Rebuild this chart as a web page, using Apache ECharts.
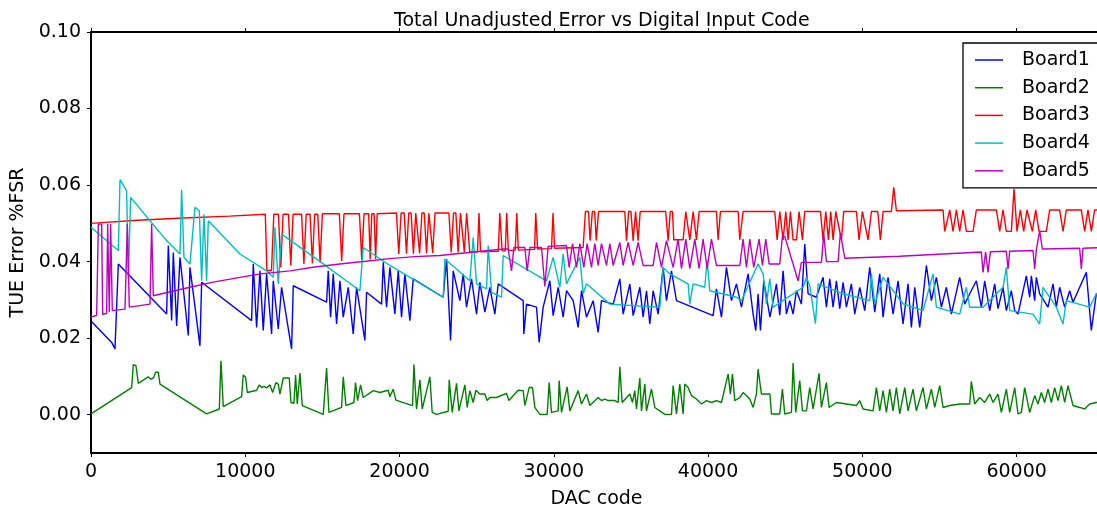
<!DOCTYPE html>
<html>
<head>
<meta charset="utf-8">
<script src="https://cdn.jsdelivr.net/npm/echarts@6/dist/echarts.min.js"></script>
<style>
html,body{margin:0;padding:0;background:#fff;}
#chart{width:1097px;height:506px;}
</style>
</head>
<body>
<div id="chart"></div>
<script>
const seriesNames = ['Board1','Board2','Board3','Board4','Board5'];
const xTicks = [0,10000,20000,30000,40000,50000,60000];
const yTicks = [0,0.02,0.04,0.06,0.08,0.10];

const b1x = [0,1339,1555,1771,4903,5011,5227,5335,5551,5767,6307,6415,7063,7171,10411,10519,10735,10951,11167,11383,11707,11815,12139,12355,13003,13111,15271,15379,15531,15703,15919,16135,16351,16675,16999,17215,17755,17863,18835,18943,19159,19375,19699,19915,20131,20347,20671,20887,22831,23047,23307,23479,23911,24127,24343,24667,24991,25207,25531,25855,26179,26395,28015,28058,28231,28879,29052,29311,29743,29959,30283,30607,30823,31255,31579,31795,32119,32551,32875,33091,33847,34279,34495,34927,35143,35575,35791,36007,36223,36439,36763,37087,37303,37627,37951,40327,40543,40867,41191,41515,41839,42163,42595,42919,43092,43243,43394,43610,44011,44431,44647,44863,45079,45295,45511,45727,46051,46267,46483,47023,47455,47671,47887,48103,48319,48535,48751,48967,49291,49507,49831,50155,50479,50803,51127,51343,51667,51991,52315,52639,52963,53179,53395,53719,54151,54475,54799,55123,55447,55771,56311,56635,56959,57391,57715,57931,58255,58579,58795,59119,59335,59659,59875,60091,60631,60847,60955,61171,61279,61495,62035,62359,62575,62791,63115,63439,63655,64087,64519,64843,65167,65535];
const b1y = [0.0245,0.0189,0.0172,0.0394,0.0263,0.0442,0.0246,0.0424,0.0232,0.0411,0.0207,0.0385,0.0180,0.0346,0.0246,0.0394,0.0228,0.0376,0.0220,0.0368,0.0211,0.0350,0.0224,0.0333,0.0172,0.0337,0.0294,0.0376,0.0255,0.0368,0.0237,0.0350,0.0255,0.0333,0.0211,0.0333,0.0194,0.0320,0.0289,0.0398,0.0281,0.0385,0.0263,0.0376,0.0255,0.0368,0.0246,0.0355,0.0307,0.0407,0.0194,0.0376,0.0298,0.0368,0.0281,0.0355,0.0263,0.0346,0.0268,0.0333,0.0263,0.0342,0.0298,0.0211,0.0289,0.0281,0.0189,0.0281,0.0350,0.0259,0.0333,0.0255,0.0324,0.0298,0.0228,0.0324,0.0255,0.0298,0.0215,0.0298,0.0289,0.0355,0.0263,0.0342,0.0259,0.0333,0.0255,0.0324,0.0237,0.0324,0.0263,0.0385,0.0298,0.0376,0.0298,0.0259,0.0329,0.0255,0.0385,0.0298,0.0342,0.0281,0.0368,0.0263,0.0220,0.0316,0.0220,0.0350,0.0255,0.0342,0.0260,0.0376,0.0263,0.0298,0.0263,0.0324,0.0289,0.0446,0.0316,0.0307,0.0359,0.0281,0.0355,0.0281,0.0350,0.0277,0.0346,0.0281,0.0342,0.0263,0.0333,0.0272,0.0385,0.0268,0.0368,0.0255,0.0359,0.0263,0.0350,0.0237,0.0342,0.0228,0.0333,0.0228,0.0390,0.0298,0.0359,0.0281,0.0333,0.0263,0.0359,0.0289,0.0316,0.0350,0.0281,0.0350,0.0272,0.0342,0.0277,0.0333,0.0272,0.0324,0.0272,0.0263,0.0363,0.0307,0.0363,0.0298,0.0359,0.0316,0.0281,0.0342,0.0281,0.0333,0.0281,0.0324,0.0294,0.0333,0.0372,0.0220,0.0316,0.0325];

const b2x = [0,2635,2743,2916,3067,3715,3866,4039,4190,4363,4471,7495,8316,8424,8575,9763,9871,10022,10130,10735,10908,11059,11210,11383,11599,11772,11988,12139,12247,12463,12852,12960,13155,13262,13370,13543,13694,15055,15271,15422,16243,16351,16524,17042,17150,17280,17474,17647,18295,18727,19267,19375,19591,19764,20843,20930,21103,21319,21470,21967,22118,22399,23155,23220,23414,23695,23846,24235,24386,24559,24775,24948,25207,25531,25682,25855,26287,26935,27086,27691,28015,28123,28404,28620,28771,29095,29570,29700,29851,30283,30348,30499,30866,31039,31579,31795,32119,32335,32875,33091,33307,33523,33955,34171,34279,34430,34927,35100,35251,35359,35575,35683,35899,36007,36331,36547,37195,37627,37735,37951,38167,38383,38491,38707,38923,39247,39571,39895,40219,40543,40867,41299,41450,41580,41731,42055,42271,42487,42703,42919,43135,43243,43459,44011,44107,44647,44820,44971,45403,45511,45684,45943,46116,46375,46591,46807,47196,47347,47671,47844,48319,48967,49615,49831,50047,50695,50911,51127,51343,51559,51775,51991,52207,52423,52747,52963,53287,53503,53935,54151,54475,54691,55015,55231,55663,56311,56959,57067,57283,57607,57931,58255,58471,58795,59011,59335,59551,59875,60091,60307,60523,60847,61171,61387,61603,61819,62035,62251,62467,62683,62899,63115,63331,63655,64087,64411,64735,65167,65535];
const b2y = [0.0002,0.0071,0.0131,0.0128,0.0082,0.0099,0.0093,0.0096,0.0111,0.0111,0.0080,0.0002,0.0015,0.0141,0.0021,0.0047,0.0104,0.0098,0.0058,0.0064,0.0078,0.0071,0.0074,0.0070,0.0078,0.0058,0.0084,0.0080,0.0054,0.0096,0.0096,0.0032,0.0030,0.0104,0.0028,0.0109,0.0024,0.0001,0.0122,0.0006,0.0019,0.0099,0.0024,0.0032,0.0084,0.0037,0.0078,0.0045,0.0063,0.0058,0.0064,0.0047,0.0067,0.0038,0.0024,0.0131,0.0015,0.0091,0.0015,0.0099,0.0006,0.0001,0.0009,0.0091,0.0006,0.0082,0.0010,0.0078,0.0019,0.0063,0.0032,0.0064,0.0054,0.0054,0.0037,0.0045,0.0045,0.0056,0.0037,0.0064,0.0063,0.0024,0.0071,0.0071,0.0019,0.0001,0.0001,0.0084,0.0006,0.0010,0.0089,0.0006,0.0073,0.0010,0.0063,0.0028,0.0054,0.0024,0.0045,0.0037,0.0041,0.0037,0.0037,0.0032,0.0125,0.0032,0.0054,0.0032,0.0063,0.0015,0.0096,0.0010,0.0080,0.0010,0.0067,0.0019,0.0001,0.0001,0.0076,0.0002,0.0080,0.0002,0.0080,0.0071,0.0050,0.0041,0.0028,0.0037,0.0032,0.0037,0.0032,0.0106,0.0054,0.0106,0.0037,0.0045,0.0058,0.0050,0.0041,0.0019,0.0054,0.0119,0.0054,0.0054,0.0002,0.0002,0.0067,0.0002,0.0006,0.0135,0.0006,0.0089,0.0010,0.0010,0.0071,0.0015,0.0108,0.0019,0.0084,0.0019,0.0032,0.0028,0.0024,0.0037,0.0015,0.0010,0.0071,0.0010,0.0063,0.0006,0.0067,0.0010,0.0071,0.0002,0.0071,0.0010,0.0067,0.0010,0.0071,0.0015,0.0067,0.0019,0.0076,0.0019,0.0024,0.0028,0.0028,0.0087,0.0028,0.0045,0.0032,0.0054,0.0032,0.0054,0.0006,0.0067,0.0006,0.0071,0.0002,0.0006,0.0071,0.0006,0.0050,0.0028,0.0058,0.0032,0.0067,0.0032,0.0071,0.0037,0.0076,0.0032,0.0076,0.0024,0.0019,0.0015,0.0028,0.0032,0.0032];

const b3x = [0,3000,6000,9000,11300,11400,11700,11850,12150,12300,12450,12800,12950,13100,13650,13800,13950,14200,14350,14500,14700,14850,15000,16100,16250,16400,17400,17550,17700,18000,18100,18200,18350,18450,18550,19800,19950,20100,20300,20450,20600,20750,20900,21050,21150,21300,21450,21600,21750,21900,22000,22150,22300,23200,23350,23500,23650,23800,23950,24050,24200,24350,24450,24550,25050,25150,25250,26400,26500,26650,26850,26950,27050,27500,27600,27700,28750,28830,28950,29850,29950,30050,31900,32050,32250,32350,32500,32650,32750,32900,34600,34711,34850,35000,35143,35300,35400,35467,35600,37250,37411,37550,37692,37778,38383,38556,38815,39031,39247,39420,40543,40651,40802,41947,42055,42163,42271,44323,44474,44647,44863,45036,45187,45338,45511,45727,45900,46116,46267,47282,47455,47628,47801,47952,48103,48276,48643,48794,49615,49788,50004,50371,50587,51000,51170,51343,51883,52034,52207,55231,55339,55663,55879,56095,56311,56527,56743,57175,57391,58687,58903,59119,59335,59659,59832,60026,60242,60458,60674,61020,61236,61452,61927,62143,62791,63007,63223,64195,64411,64627,64843,65059,65535];
const b3y = [0.0500,0.0508,0.0514,0.0519,0.0524,0.0377,0.0377,0.0524,0.0524,0.0385,0.0524,0.0524,0.0390,0.0524,0.0524,0.0394,0.0524,0.0524,0.0396,0.0524,0.0524,0.0398,0.0525,0.0525,0.0402,0.0525,0.0525,0.0405,0.0525,0.0525,0.0406,0.0525,0.0525,0.0407,0.0525,0.0527,0.0420,0.0527,0.0527,0.0421,0.0527,0.0527,0.0421,0.0527,0.0527,0.0422,0.0527,0.0527,0.0422,0.0527,0.0527,0.0423,0.0527,0.0527,0.0424,0.0527,0.0527,0.0424,0.0527,0.0527,0.0425,0.0527,0.0527,0.0425,0.0425,0.0527,0.0426,0.0427,0.0527,0.0428,0.0428,0.0527,0.0429,0.0430,0.0527,0.0430,0.0432,0.0527,0.0433,0.0434,0.0527,0.0435,0.0437,0.0531,0.0531,0.0455,0.0531,0.0531,0.0455,0.0531,0.0531,0.0455,0.0531,0.0531,0.0455,0.0531,0.0531,0.0455,0.0531,0.0531,0.0455,0.0531,0.0531,0.0457,0.0457,0.0531,0.0457,0.0531,0.0457,0.0531,0.0531,0.0457,0.0531,0.0531,0.0457,0.0457,0.0531,0.0531,0.0457,0.0531,0.0457,0.0531,0.0457,0.0531,0.0457,0.0457,0.0531,0.0457,0.0531,0.0531,0.0457,0.0531,0.0457,0.0531,0.0457,0.0531,0.0457,0.0531,0.0531,0.0457,0.0531,0.0457,0.0531,0.0531,0.0457,0.0531,0.0531,0.0594,0.0533,0.0535,0.0479,0.0535,0.0479,0.0535,0.0479,0.0535,0.0479,0.0479,0.0535,0.0535,0.0479,0.0535,0.0479,0.0479,0.0590,0.0479,0.0535,0.0479,0.0535,0.0479,0.0535,0.0479,0.0479,0.0535,0.0535,0.0479,0.0535,0.0535,0.0479,0.0535,0.0479,0.0535,0.0535];

const b4x = [0,1771,1879,2311,2419,2570,3823,4903,5767,5875,6026,6415,6739,7020,7171,7322,7495,7603,9655,11383,11815,11923,12139,12355,15055,17431,17647,19375,22831,22939,24559,24775,24991,25639,25747,25963,26611,26719,29527,29959,30391,30607,30823,31687,31903,32119,33631,36871,37087,37519,38707,38815,39031,39787,39938,40111,41839,42163,43243,43567,43783,43999,44215,46159,46375,46591,46959,47131,48751,50479,50587,50803,51343,52639,53935,54583,54799,56311,56743,56959,57823,59119,59335,59551,61063,61495,61711,62575,63007,63223,64735,65167,65535];
const b4y = [0.0490,0.0429,0.0614,0.0585,0.0355,0.0568,0.0507,0.0455,0.0420,0.0588,0.0411,0.0394,0.0542,0.0533,0.0350,0.0524,0.0350,0.0507,0.0420,0.0376,0.0359,0.0490,0.0342,0.0472,0.0394,0.0324,0.0437,0.0390,0.0307,0.0407,0.0350,0.0463,0.0342,0.0329,0.0442,0.0320,0.0307,0.0416,0.0350,0.0411,0.0333,0.0420,0.0342,0.0411,0.0316,0.0342,0.0289,0.0281,0.0385,0.0368,0.0342,0.0289,0.0342,0.0333,0.0403,0.0324,0.0307,0.0298,0.0394,0.0368,0.0289,0.0355,0.0281,0.0333,0.0359,0.0337,0.0238,0.0342,0.0316,0.0298,0.0368,0.0289,0.0359,0.0290,0.0272,0.0368,0.0281,0.0263,0.0333,0.0281,0.0281,0.0333,0.0385,0.0272,0.0263,0.0237,0.0333,0.0281,0.0237,0.0298,0.0281,0.0316,0.0320];

const b5x = [0,367,475,691,756,1015,1080,1188,1274,1382,2203,2354,2484,3823,3931,4039,5000,6415,8000,9655,11000,12895,14500,16135,17800,19375,21000,22615,24500,26719,27043,27259,27410,28123,28274,28447,29203,29419,29635,30823,30996,31212,31471,31687,31946,32162,32443,32659,32875,33091,33415,33631,33847,34279,34495,34819,35143,35467,35791,36439,36655,36979,37303,37735,38059,38275,38556,38815,39139,39420,39679,39938,40219,40543,42055,42271,42487,42703,42961,43308,43524,43740,43956,44647,44820,44971,45835,46051,47347,47498,47671,48427,48578,48859,52423,57715,57823,57990,58147,58300,59335,59443,59551,61063,61171,61279,61495,61667,64087,64195,64303,65535];
const b5y = [0.0255,0.0260,0.0498,0.0498,0.0262,0.0265,0.0498,0.0268,0.0498,0.0272,0.0276,0.0498,0.0281,0.0289,0.0498,0.0311,0.0320,0.0333,0.0347,0.0359,0.0368,0.0376,0.0386,0.0394,0.0401,0.0408,0.0413,0.0416,0.0424,0.0433,0.0433,0.0376,0.0437,0.0437,0.0376,0.0437,0.0437,0.0335,0.0440,0.0442,0.0385,0.0447,0.0385,0.0447,0.0385,0.0447,0.0385,0.0447,0.0390,0.0447,0.0390,0.0447,0.0390,0.0450,0.0390,0.0450,0.0390,0.0450,0.0390,0.0390,0.0450,0.0385,0.0455,0.0385,0.0459,0.0382,0.0459,0.0382,0.0459,0.0382,0.0459,0.0382,0.0459,0.0390,0.0390,0.0459,0.0385,0.0459,0.0385,0.0459,0.0390,0.0459,0.0394,0.0394,0.0466,0.0466,0.0350,0.0398,0.0398,0.0472,0.0400,0.0400,0.0475,0.0409,0.0414,0.0425,0.0372,0.0425,0.0372,0.0426,0.0427,0.0381,0.0427,0.0429,0.0381,0.0431,0.0481,0.0433,0.0435,0.0381,0.0435,0.0437];

const colors = ['#0000ff','#008000','#ff0000','#00bfbf','#bf00bf'];
const FONT = 'DejaVu Sans';

function zip(xs, ys){ return xs.map((x,i)=>[x, ys[i]]); }
const dataSets = [zip(b1x,b1y), zip(b2x,b2y), zip(b3x,b3y), zip(b4x,b4y), zip(b5x,b5y)];

const chart = echarts.init(document.getElementById('chart'), null, {renderer:'canvas'});
const axisText = {fontFamily: FONT, fontSize: 19, color: '#000'};
chart.setOption({
  animation: false,
  backgroundColor: '#fff',
  title: {
    text: 'Total Unadjusted Error vs Digital Input Code',
    left: 389, top: 7,
    textStyle: {fontFamily: FONT, fontSize: 19, fontWeight: 'normal', color: '#000'}
  },
  grid: {left: 91, top: 32, right: -5, bottom: 53, outerBoundsMode: 'none', containLabel: false},
  xAxis: [{
    type: 'value', min: 0, max: 65535, position: 'bottom',
    name: 'DAC code', nameLocation: 'middle', nameGap: 37,
    nameTextStyle: axisText,
    axisLine: {onZero: false, lineStyle: {color: '#000', width: 2}},
    axisTick: {customValues: xTicks, length: 4, lineStyle: {color: '#000', width: 1}},
    axisLabel: Object.assign({customValues: xTicks, margin: 10, formatter: v => String(v)}, axisText),
    splitLine: {show: false}
  }, {
    type: 'value', min: 0, max: 65535, position: 'top',
    axisLine: {onZero: false, lineStyle: {color: '#000', width: 2}},
    axisTick: {customValues: xTicks, length: 4, lineStyle: {color: '#000', width: 1}},
    axisLabel: {show: false},
    splitLine: {show: false}
  }],
  yAxis: {
    type: 'value', min: -0.01, max: 0.10,
    name: 'TUE Error %FSR', nameLocation: 'middle', nameGap: 55,
    nameTextStyle: axisText,
    axisLine: {onZero: false, lineStyle: {color: '#000', width: 2}},
    axisTick: {customValues: yTicks, length: 4, lineStyle: {color: '#000', width: 1}},
    axisLabel: Object.assign({customValues: yTicks, margin: 10, formatter: v => v.toFixed(2)}, axisText),
    splitLine: {show: false}
  },
  legend: {
    orient: 'vertical', left: 963, top: 43,
    padding: [6, 40, 6, 12],
    icon: 'rect',
    itemWidth: 28, itemHeight: 1.5, itemGap: 5.7,
    backgroundColor: '#fff', borderColor: '#000', borderWidth: 1.3,
    textStyle: {fontFamily: FONT, fontSize: 19, color: '#000', lineHeight: 22, padding: [0,0,0,14]},
    data: seriesNames
  },
  series: seriesNames.map((n, i) => ({
    name: n, type: 'line', data: dataSets[i],
    symbol: 'none', showSymbol: false,
    lineStyle: {color: colors[i], width: 1.4},
    itemStyle: {color: colors[i]},
    emphasis: {disabled: true},
    z: 2 + i
  }))
});
</script>
</body>
</html>
